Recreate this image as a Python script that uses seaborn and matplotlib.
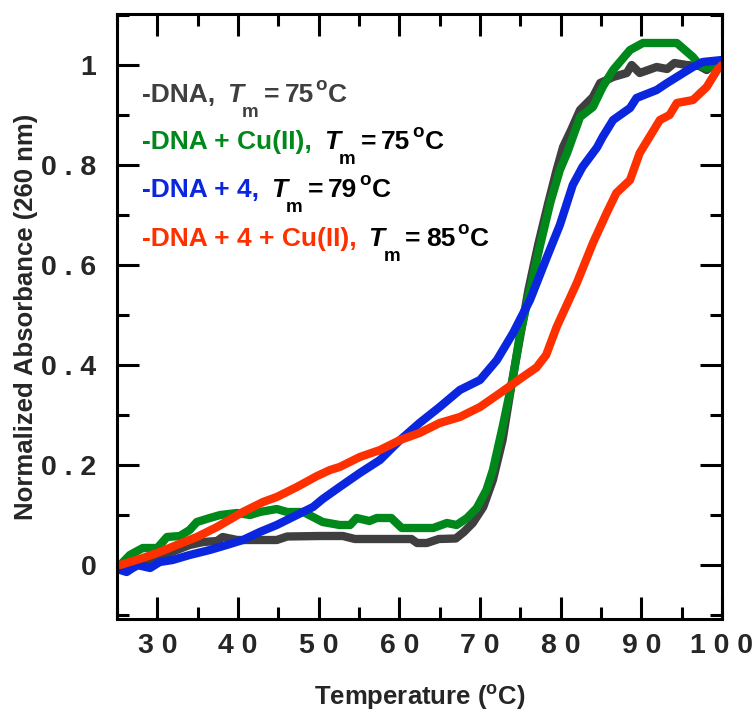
import matplotlib
matplotlib.use("Agg")
import matplotlib.pyplot as plt
from matplotlib.ticker import MultipleLocator, FixedLocator
import numpy as np
import pandas as pd
import seaborn as sns

# ---------------- data ----------------
dna_T = [25.5, 26.6, 28.2, 30.3, 32.4, 34.0, 35.7, 37.4, 38.1, 39.9, 44.8, 46.1, 50.2, 53.0,
         54.5, 61.5, 62.2, 63.4, 64.9, 67.0, 68.0, 69.1, 70.4, 71.6, 72.8, 73.9, 74.9, 76.0,
         77.2, 78.4, 79.5, 80.3, 81.3, 82.4, 84.0, 84.9, 86.5, 88.2, 88.8, 89.8, 91.9, 93.2,
         94.1, 95.6, 97.2, 98.1, 98.9, 100.0]
dna_A = [0.0, -0.008, 0.004, 0.016, 0.03, 0.04, 0.046, 0.048, 0.056, 0.05, 0.05, 0.057, 0.058, 0.058,
         0.052, 0.052, 0.044, 0.044, 0.052, 0.053, 0.066, 0.084, 0.116, 0.17, 0.25, 0.36, 0.45, 0.55,
         0.64, 0.72, 0.79, 0.836, 0.87, 0.91, 0.936, 0.964, 0.976, 0.984, 1.0, 0.984, 0.996, 0.992,
         1.004, 1.0, 0.998, 0.99, 1.0, 1.0]

cu_T = [25.4, 26.6, 28.2, 30.0, 31.2, 32.8, 34.0, 34.9, 36.5, 37.8, 39.9, 41.5, 42.7, 44.8,
        46.1, 48.1, 49.3, 50.5, 52.6, 53.9, 54.7, 56.3, 57.2, 59.0, 60.3, 64.2, 65.9, 67.1,
        68.4, 69.6, 70.8, 71.6, 72.8, 74.1, 74.9, 76.2, 77.4, 78.7, 79.9, 80.8, 82.4, 84.0,
        85.2, 86.5, 88.6, 90.2, 94.4, 96.4, 97.2, 98.1, 100.0]
cu_A = [0.0, 0.02, 0.034, 0.034, 0.056, 0.058, 0.07, 0.086, 0.094, 0.1, 0.104, 0.1, 0.106, 0.112,
        0.106, 0.106, 0.096, 0.086, 0.08, 0.08, 0.094, 0.088, 0.094, 0.094, 0.074, 0.074, 0.084, 0.08,
        0.094, 0.114, 0.15, 0.19, 0.276, 0.376, 0.456, 0.55, 0.636, 0.724, 0.79, 0.824, 0.896, 0.916,
        0.956, 0.99, 1.03, 1.044, 1.044, 1.016, 1.0, 0.994, 1.0]

l4_T = [25.4, 26.2, 27.5, 29.1, 30.3, 31.9, 34.0, 36.5, 38.6, 40.6, 42.7, 44.8, 47.3, 49.3,
        50.5, 52.6, 55.1, 57.6, 60.1, 62.5, 65.0, 67.5, 70.0, 72.1, 74.1, 76.2, 78.3, 79.9,
        81.5, 82.7, 84.5, 85.2, 86.5, 88.6, 89.4, 91.9, 93.2, 94.8, 96.4, 97.6, 100.0]
l4_A = [-0.01, -0.014, 0.0, -0.006, 0.006, 0.01, 0.02, 0.03, 0.04, 0.05, 0.066, 0.08, 0.1, 0.116,
        0.132, 0.156, 0.184, 0.21, 0.25, 0.284, 0.316, 0.35, 0.37, 0.41, 0.464, 0.53, 0.616, 0.68,
        0.76, 0.796, 0.835, 0.856, 0.89, 0.914, 0.934, 0.95, 0.964, 0.98, 0.996, 1.006, 1.01]

l4cu_T = [25.4, 28.2, 30.3, 32.4, 34.9, 37.4, 40.6, 43.1, 44.8, 47.3, 49.8, 51.4, 52.6, 55.1,
          57.6, 60.1, 62.5, 65.0, 67.5, 70.0, 72.5, 75.3, 77.0, 78.2, 79.5, 82.0, 84.0, 85.7, 86.9,
          88.6, 89.8, 92.3, 93.5, 94.4, 96.4, 98.1, 99.4, 100.0]
l4cu_A = [0.0, 0.014, 0.026, 0.04, 0.056, 0.076, 0.106, 0.126, 0.136, 0.156, 0.178, 0.19, 0.196, 0.216,
          0.23, 0.25, 0.264, 0.284, 0.296, 0.316, 0.344, 0.376, 0.395, 0.42, 0.476, 0.564, 0.644, 0.704, 0.744,
          0.77, 0.824, 0.89, 0.9, 0.924, 0.93, 0.956, 0.99, 1.0]

series_names = ["DNA", "DNA + Cu(II)", "DNA + 4", "DNA + 4 + Cu(II)"]
tm_values = ["75", "75", "79", "85"]
series_colors = ["#3f3f3f", "#00891a", "#0a26df", "#ff3000"]

x_ticks = [30, 40, 50, 60, 70, 80, 90, 100]
x_tick_labels = ["3 0", "4 0", "5 0", "6 0", "7 0", "8 0", "9 0", "1 0 0"]
y_ticks = [0, 0.2, 0.4, 0.6, 0.8, 1.0]
y_tick_labels = ["0", "0 . 2", "0 . 4", "0 . 6", "0 . 8", "1"]

# ---------------- style ----------------
sns.set_style("white")
plt.rcParams["font.family"] = ["Liberation Sans", "DejaVu Sans"]
plt.rcParams["font.weight"] = "bold"
plt.rcParams["mathtext.fontset"] = "custom"
plt.rcParams["mathtext.rm"] = "Liberation Sans:bold"
plt.rcParams["mathtext.bf"] = "Liberation Sans:bold"
plt.rcParams["mathtext.it"] = "Liberation Sans:bold:italic"

W, H = 752, 713
fig = plt.figure(figsize=(W / 100, H / 100), dpi=100)
L, R, T, B = 117, 722, 14, 619
ax = fig.add_axes([L / W, 1 - B / H, (R - L) / W, (B - T) / H])

frames = []
for name, xs, ys in zip(series_names, [dna_T, cu_T, l4_T, l4cu_T], [dna_A, cu_A, l4_A, l4cu_A]):
    frames.append(pd.DataFrame({"Temperature": xs, "Absorbance": ys, "series": name}))
df = pd.concat(frames, ignore_index=True)

sns.lineplot(data=df, x="Temperature", y="Absorbance", hue="series", hue_order=series_names,
             palette=dict(zip(series_names, series_colors)), estimator=None, sort=False,
             linewidth=6.0, legend=False, ax=ax)

ax.set_xlim(25, 100)
ax.set_ylim(-0.108, 1.102)

ax.xaxis.set_major_locator(FixedLocator(x_ticks))
ax.set_xticklabels(x_tick_labels)
ax.yaxis.set_major_locator(FixedLocator(y_ticks))
ax.set_yticklabels(y_tick_labels)
ax.xaxis.set_minor_locator(MultipleLocator(5))
ax.yaxis.set_minor_locator(MultipleLocator(0.1))

for s in ax.spines.values():
    s.set_linewidth(2.2)
    s.set_color("black")
ax.tick_params(which="both", direction="in", top=True, right=True, bottom=True, left=True,
               width=2.2, color="black")
ax.tick_params(which="major", length=16)
ax.tick_params(which="minor", length=8.5)
ax.tick_params(axis="x", which="major", labelsize=20.5, pad=10)
ax.tick_params(axis="y", which="major", labelsize=20.5, pad=15)
for lab in ax.get_xticklabels() + ax.get_yticklabels():
    lab.set_fontweight("bold")

ax.set_xlabel(r"Temperature ($^{\mathrm{o}}$C)", fontsize=18.5, fontweight="bold", va="baseline")
ax.xaxis.set_label_coords(0.5, -(705 - B) / (B - T))
ax.set_ylabel("Normalized Absorbance (260 nm)", fontsize=18.5, fontweight="bold", va="baseline")
ax.yaxis.set_label_coords(-(117 - 33) / (R - L), 0.5)

# ---------------- legend built from text pieces ----------------
renderer = fig.canvas.get_renderer()


def put(x_px, y_px, s, color, size, style="normal"):
    t = fig.text(x_px / W, 1 - y_px / H, s, color=color, fontsize=size, fontweight="bold",
                 fontstyle=style, ha="left", va="baseline")
    bb = t.get_window_extent(renderer)
    return bb.x1  # right edge in pixels


row_baselines = [102, 149, 197, 246]
for i, name in enumerate(series_names):
    yb = row_baselines[i]
    col = series_colors[i]
    tail_col = col if i == 0 else "black"
    x = put(142, yb, "-" + name + ",", col, 19)
    x = put(x + 12, yb, "T", tail_col, 19, "italic")
    x = put(x - 1, yb + 15, "m", tail_col, 13.5)
    x = put(x + 5, yb, "=", tail_col, 19)
    x = put(x + 5, yb, tm_values[i], tail_col, 19)
    x = put(x + 2, yb - 12, "o", tail_col, 13.5)
    x = put(x + 1, yb, "C", tail_col, 19)

fig.savefig("out.png", dpi=100)
